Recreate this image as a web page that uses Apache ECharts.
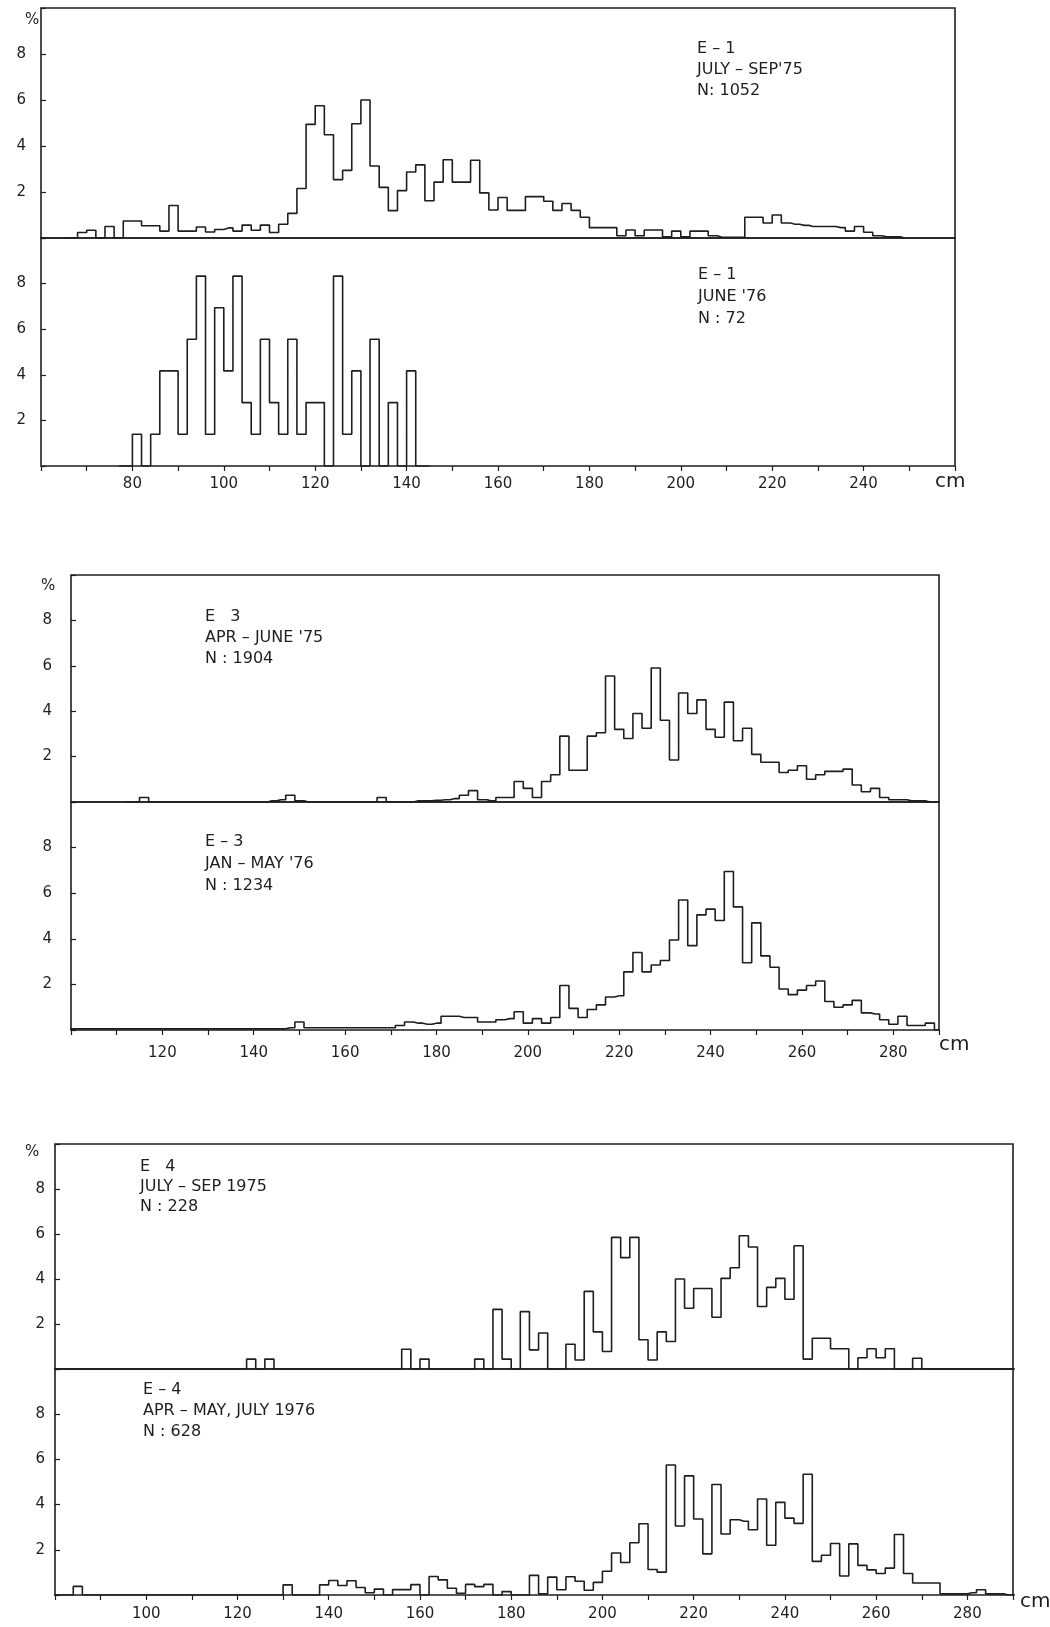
<!DOCTYPE html>
<html lang="en">
<head>
<meta charset="UTF-8">
<title>Length frequency E-1, E-3, E-4</title>
<script src="https://cdn.jsdelivr.net/npm/echarts@6/dist/echarts.min.js"></script>
<style>
    html, body { margin: 0; padding: 0; background: #fff; }
    #main { width: 1050px; height: 1627px; }
</style>
</head>
<body>
<div id="main"></div>
<script>
// percent per 2 cm length class; first value is the class centre given in *Start
var e1aStart = 67;
var e1aPct = [0, 0.24, 0.34, 0, 0.5, 0, 0.74, 0.74, 0.53, 0.53,
    0.3, 1.41, 0.3, 0.3, 0.48, 0.26, 0.37, 0.44, 0.3, 0.56,
    0.34, 0.56, 0.24, 0.6, 1.07, 2.15, 4.94, 5.75, 4.49, 2.54,
    2.94, 4.97, 6.0, 3.13, 2.2, 1.19, 2.06, 2.87, 3.18, 1.62,
    2.43, 3.4, 2.43, 2.43, 3.38, 1.96, 1.22, 1.76, 1.2, 1.2,
    1.8, 1.8, 1.6, 1.2, 1.5, 1.2, 0.9, 0.45, 0.45, 0.45,
    0.1, 0.35, 0.1, 0.35, 0.35, 0.05, 0.3, 0.05, 0.3, 0.3,
    0.1, 0.03, 0.03, 0.03, 0.9, 0.9, 0.65, 1.0, 0.65, 0.6,
    0.55, 0.5, 0.5, 0.5, 0.45, 0.3, 0.5, 0.25, 0.1, 0.05, 0.05];

var e1bStart = 79;
var e1bPct = [0, 1.39, 0, 1.39, 4.17, 4.17, 1.39, 5.56, 8.33, 1.39,
    6.94, 4.17, 8.33, 2.78, 1.39, 5.56, 2.78, 1.39, 5.56, 1.39,
    2.78, 2.78, 0, 8.33, 1.39, 4.17, 0, 5.56, 0, 2.78, 0, 4.17, 0];

var e3aStart = 114;
var e3aPct = [0, 0.2, 0, 0, 0, 0, 0, 0, 0, 0,
    0, 0, 0, 0, 0, 0.05, 0.1, 0.3, 0.05, 0,
    0, 0, 0, 0, 0, 0, 0, 0.2, 0, 0,
    0, 0.05, 0.05, 0.08, 0.1, 0.15, 0.3, 0.5, 0.1, 0.05,
    0.2, 0.2, 0.9, 0.6, 0.2, 0.9, 1.2, 2.9, 1.4, 1.4,
    2.9, 3.05, 5.55, 3.2, 2.8, 3.9, 3.25, 5.9, 3.6, 1.85,
    4.8, 3.9, 4.5, 3.2, 2.85, 4.4, 2.7, 3.25, 2.1, 1.75,
    1.75, 1.3, 1.4, 1.6, 1.0, 1.2, 1.35, 1.35, 1.45, 0.75,
    0.45, 0.6, 0.2, 0.1, 0.1, 0.05, 0.05, 0];

var e3bStart = 100;
var e3bPct = [0.05, 0.05, 0.05, 0.05, 0.05, 0.05, 0.05, 0.05, 0.05, 0.05,
    0.05, 0.05, 0.05, 0.05, 0.05, 0.05, 0.05, 0.05, 0.05, 0.05,
    0.05, 0.05, 0.05, 0.05, 0.1, 0.35, 0.1, 0.1, 0.1, 0.1,
    0.1, 0.1, 0.1, 0.1, 0.1, 0.1, 0.2, 0.35, 0.3, 0.25,
    0.3, 0.6, 0.6, 0.55, 0.55, 0.35, 0.35, 0.45, 0.5, 0.8,
    0.3, 0.5, 0.3, 0.55, 1.95, 0.95, 0.55, 0.9, 1.1, 1.45,
    1.5, 2.55, 3.4, 2.55, 2.85, 3.05, 3.95, 5.7, 3.7, 5.05,
    5.3, 4.8, 6.95, 5.4, 2.95, 4.7, 3.25, 2.75, 1.8, 1.55,
    1.75, 1.95, 2.15, 1.25, 1.0, 1.1, 1.3, 0.75, 0.7, 0.45,
    0.25, 0.6, 0.2, 0.2, 0.3];

var e4aStart = 81;
var e4aPct = [0, 0, 0, 0, 0, 0, 0, 0, 0, 0,
    0, 0, 0, 0, 0, 0, 0, 0, 0, 0,
    0, 0.44, 0, 0.44, 0, 0, 0, 0, 0, 0,
    0, 0, 0, 0, 0, 0, 0, 0, 0.88, 0,
    0.44, 0, 0, 0, 0, 0, 0.44, 0, 2.65, 0.44,
    0, 2.55, 0.85, 1.6, 0, 0, 1.1, 0.4, 3.45, 1.65,
    0.78, 5.85, 4.95, 5.85, 1.3, 0.4, 1.65, 1.22, 4.0, 2.7,
    3.58, 3.58, 2.3, 4.03, 4.5, 5.92, 5.42, 2.78, 3.63, 4.03,
    3.1, 5.48, 0.44, 1.37, 1.37, 0.9, 0.9, 0, 0.5, 0.9,
    0.5, 0.9, 0, 0, 0.48, 0, 0, 0, 0, 0, 0, 0, 0, 0, 0];

var e4bStart = 81;
var e4bPct = [0, 0, 0.38, 0, 0, 0, 0, 0, 0, 0,
    0, 0, 0, 0, 0, 0, 0, 0, 0, 0,
    0, 0, 0, 0, 0, 0.45, 0, 0, 0, 0.45,
    0.64, 0.42, 0.63, 0.33, 0.1, 0.26, 0, 0.24, 0.24, 0.46,
    0, 0.82, 0.67, 0.3, 0.08, 0.47, 0.37, 0.47, 0, 0.15,
    0, 0, 0.87, 0.05, 0.79, 0.23, 0.81, 0.61, 0.21, 0.56,
    1.05, 1.86, 1.44, 2.31, 3.15, 1.13, 1.01, 5.75, 3.05, 5.27,
    3.36, 1.82, 4.89, 2.7, 3.33, 3.26, 2.89, 4.25, 2.2, 4.1,
    3.4, 3.17, 5.34, 1.49, 1.76, 2.28, 0.84, 2.26, 1.31, 1.11,
    0.95, 1.19, 2.68, 0.95, 0.53, 0.53, 0.53, 0.05, 0.05, 0.05,
    0.1, 0.23, 0.05, 0.05, 0];

var panelTitles = [
    'E – 1\nJULY – SEP\'75\nN: 1052',
    'E – 1\nJUNE \'76\nN : 72',
    'E   3\nAPR – JUNE \'75\nN : 1904',
    'E – 3\nJAN – MAY \'76\nN : 1234',
    'E   4\nJULY – SEP 1975\nN : 228',
    'E – 4\nAPR – MAY, JULY 1976\nN : 628'
];

var ink = '#1e1e1e';
var font = 'DejaVu Sans';

var grids = [
    {left: 41, top: 8, width: 914, height: 230},
    {left: 41, top: 238, width: 914, height: 228},
    {left: 71, top: 575, width: 868, height: 227},
    {left: 71, top: 802, width: 868, height: 228},
    {left: 55, top: 1144, width: 958, height: 225},
    {left: 55, top: 1369, width: 958, height: 226}
];
var xMin = [60, 60, 100, 100, 80, 80];
var xMax = [260, 260, 290, 290, 290, 290];
var yMargin = [15, 15, 19, 19, 10, 10];
var xMargin = [11, 11, 16, 16, 12, 12];
var titlePos = [[697, 38], [698, 264], [205, 606], [205, 831], [140, 1157], [143, 1379]];
var titleLine = [21, 22, 21, 22, 20, 21];

var starts = [e1aStart, e1bStart, e3aStart, e3bStart, e4aStart, e4bStart];
var pcts = [e1aPct, e1bPct, e3aPct, e3bPct, e4aPct, e4bPct];

function toPoints(start, vals) {
    var pts = [[start - 2, 0]];
    for (var i = 0; i < vals.length; i++) {
        pts.push([start + 2 * i, vals[i]]);
    }
    pts.push([start + 2 * vals.length, 0]);
    return pts;
}

var xAxes = [], yAxes = [], series = [], gridOpts = [];
for (var i = 0; i < 6; i++) {
    var bottom = (i % 2 === 1);
    gridOpts.push({
        left: grids[i].left, top: grids[i].top,
        width: grids[i].width, height: grids[i].height,
        show: true, borderColor: ink, borderWidth: 1.6,
        backgroundColor: 'transparent'
    });
    (function (mn, mx) {
        xAxes.push({
            type: 'value', gridIndex: i, min: mn, max: mx, interval: 10,
            axisLine: {show: false},
            splitLine: {show: false},
            axisTick: {show: bottom, length: 5, lineStyle: {color: ink, width: 1.2}},
            axisLabel: {
                show: bottom, margin: xMargin[i], fontSize: 15, color: ink, fontFamily: font,
                formatter: function (v) {
                    return (v % 20 === 0 && v > mn && v < mx) ? String(v) : '';
                }
            }
        });
    })(xMin[i], xMax[i]);
    yAxes.push({
        type: 'value', gridIndex: i, min: 0, max: 10, interval: 2,
        axisLine: {show: false},
        splitLine: {show: false},
        axisTick: {show: true, inside: true, length: 5, lineStyle: {color: ink, width: 1.2}},
        axisLabel: {
            margin: yMargin[i], fontSize: 15, color: ink, fontFamily: font,
            formatter: function (v) { return (v > 0 && v < 10) ? String(v) : ''; }
        }
    });
    series.push({
        type: 'line', xAxisIndex: i, yAxisIndex: i,
        step: 'middle', symbol: 'none', silent: true,
        lineStyle: {color: ink, width: 1.6},
        data: toPoints(starts[i], pcts[i])
    });
}

var graphics = [];
for (var k = 0; k < 6; k++) {
    graphics.push({
        type: 'text', left: titlePos[k][0], top: titlePos[k][1],
        style: {text: panelTitles[k], fontSize: 16, lineHeight: titleLine[k], fontFamily: font, fill: ink}
    });
}
var pctPos = [[25, 13], [41, 579], [25, 1145]];
var cmPos = [[935, 472], [939, 1035], [1020, 1592]];
for (var m = 0; m < 3; m++) {
    graphics.push({
        type: 'text', left: pctPos[m][0], top: pctPos[m][1],
        style: {text: '%', fontSize: 15, fontFamily: font, fill: ink}
    });
    graphics.push({
        type: 'text', left: cmPos[m][0], top: cmPos[m][1],
        style: {text: 'cm', fontSize: 20, fontFamily: font, fill: ink}
    });
}

var chart = echarts.init(document.getElementById('main'));
chart.setOption({
    animation: false,
    backgroundColor: '#ffffff',
    grid: gridOpts,
    xAxis: xAxes,
    yAxis: yAxes,
    series: series,
    graphic: graphics
});
</script>
</body>
</html>
